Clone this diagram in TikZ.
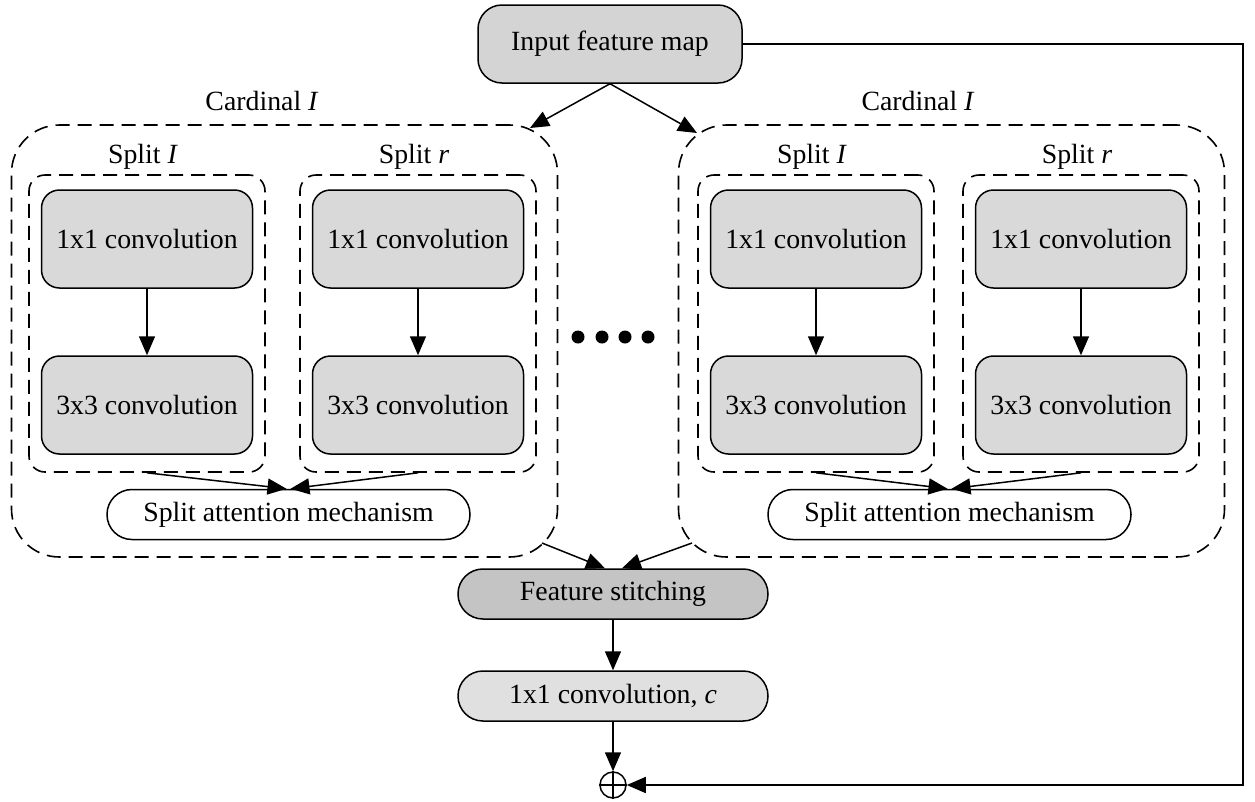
\documentclass[tikz,border=0pt]{standalone}
\usepackage{fontspec}
\setmainfont{Liberation Serif}
\usetikzlibrary{arrows.meta,shapes.misc}

\definecolor{convgray}{HTML}{D9D9D9}
\definecolor{ingray}{HTML}{D4D4D4}
\definecolor{stitchgray}{HTML}{C4C4C4}
\definecolor{outgray}{HTML}{E0E0E0}

\tikzset{
  txt/.style={font=\fontsize{27.8}{32}\selectfont},
  convbox/.style={txt, draw, line width=1.5pt, rounded corners=18pt, fill=convgray,
    minimum width=211pt, minimum height=98pt, inner sep=0pt},
  pill/.style={txt, draw, line width=1.5pt, rounded corners=24.9pt,
    minimum width=#1, minimum height=50pt, inner sep=0pt},
  splitbox/.style={draw, line width=1.6pt, dash pattern=on 14pt off 8pt,
    rounded corners=16pt, minimum width=236pt, minimum height=297pt, inner sep=0pt},
  cardbox/.style={draw, line width=1.6pt, dash pattern=on 14pt off 8pt,
    rounded corners=48pt, minimum width=546pt, minimum height=432pt, inner sep=0pt},
  arr/.style={line width=1.5pt, -{Triangle[length=19pt,width=16pt]}},
  lbl/.style={txt, inner sep=0pt}
}

\begin{document}
\begin{tikzpicture}[x=1pt, y=-1pt]
\useasboundingbox (0,0) rectangle (1255,801);

% cardinal groups and their splits
\node[cardbox] (cardL) at (284.5,341) {};
\node[cardbox] (cardR) at (951.5,341) {};
\node[lbl] (cardLlab) at (262,101) {Cardinal \textit{I}};
\node[lbl] (cardRlab) at (918,101) {Cardinal \textit{I}};

\foreach \nm/\cx/\lab in {LL/147/I, LR/418/r, RL/816/I, RR/1081/r}{
  \node[splitbox] (split\nm) at (\cx,323.5) {};
  \node[lbl] (split\nm lab) at (\cx-4,157) {Split \textit{\lab}};
  \node[convbox] (convA\nm) at (\cx,239) {1x1 convolution};
  \node[convbox] (convB\nm) at (\cx,405) {3x3 convolution};
  \draw[arr] (convA\nm.south) -- (convB\nm.north);
}

% split attention
\node[pill=363pt, fill=white] (samL) at (288.5,514.5) {Split attention mechanism};
\node[pill=363pt, fill=white] (samR) at (949.5,514.5) {Split attention mechanism};
\draw[arr] (splitLL.south) -- ([xshift=-2pt]samL.north);
\draw[arr] (splitLR.south) -- ([xshift=2pt]samL.north);
\draw[arr] (splitRL.south) -- ([xshift=-2pt]samR.north);
\draw[arr] (splitRR.south) -- ([xshift=2pt]samR.north);

% input
\node[txt, draw, line width=1.5pt, rounded corners=24pt, fill=ingray,
      minimum width=264pt, minimum height=78pt, inner sep=0pt] (input) at (610,44) {Input feature map};
\coordinate (tipL) at (530,128);
\coordinate (tipR) at (697,133);
\draw[arr] (input.south) -- (tipL);
\draw[arr] (input.south) -- (tipR);

% dots between the groups
\foreach \dx in {578,602,625,648}{
  \fill (\dx,337) circle (6.5pt);
}

% merging
\node[pill=310pt, fill=stitchgray] (stitch) at (613,594) {Feature stitching};
\node[pill=310pt, fill=outgray] (convc) at (613,696) {1x1 convolution, \textit{c}};
\coordinate (fromL) at (542,543);
\coordinate (fromR) at (692,543);
\draw[arr] (fromL) -- ([xshift=-8pt]stitch.north);
\draw[arr] (fromR) -- ([xshift=9pt]stitch.north);
\draw[arr] (stitch.south) -- (convc.north);

\node[draw, circle, line width=1.5pt, minimum size=26pt, inner sep=0pt] (sum) at (613,785) {};
\draw[line width=1.5pt] (sum.north) -- (sum.south) (sum.west) -- (sum.east);
\draw[arr] (convc.south) -- (sum.north);

% skip connection
\coordinate (skipA) at (1243,44);
\coordinate (skipB) at (1243,785);
\draw[arr] (input.east) -- (skipA) -- (skipB) -- (sum.east);
\end{tikzpicture}
\end{document}
